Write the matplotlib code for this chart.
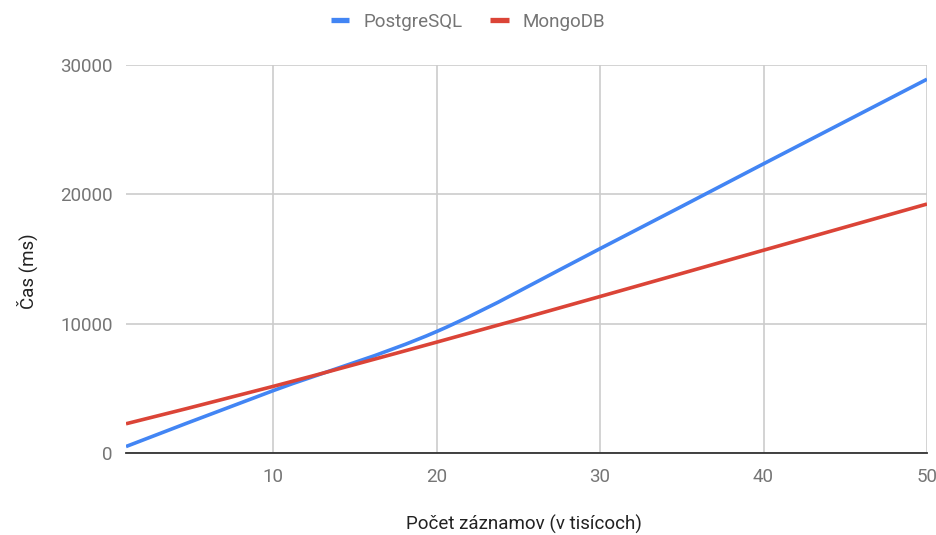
import matplotlib
matplotlib.use("Agg")
import matplotlib.pyplot as plt
from matplotlib.path import Path
from matplotlib.patches import PathPatch
from matplotlib.lines import Line2D
import numpy as np

plt.rcParams['font.family'] = ['Roboto', 'DejaVu Sans']

records = [1, 10, 20, 30, 40, 50]
postgres = [500, 4820, 9390, 15800, 22360, 28900]
mongo = [2260, 5150, 8570, 12100, 15680, 19250]
series_names = ["PostgreSQL", "MongoDB"]
colors = ["#4285F4", "#DB4437"]
yticks = [0, 10000, 20000, 30000]
xticks = [10, 20, 30, 40, 50]

W, H = 937, 535
FS = 13.5
fig = plt.figure(figsize=(W / 100, H / 100), dpi=100)
ax = fig.add_axes([126 / W, 1 - 453 / H, (927 - 126) / W, (453 - 65) / H])


def smooth_path(xs, ys, t=1 / 6):
    xs = np.asarray(xs, float)
    ys = np.asarray(ys, float)
    n = len(xs)
    verts = [(xs[0], ys[0])]
    codes = [Path.MOVETO]
    for i in range(n - 1):
        p0 = np.array([xs[max(i - 1, 0)], ys[max(i - 1, 0)]])
        p1 = np.array([xs[i], ys[i]])
        p2 = np.array([xs[i + 1], ys[i + 1]])
        p3 = np.array([xs[min(i + 2, n - 1)], ys[min(i + 2, n - 1)]])
        c1 = p1 + (p2 - p0) * t
        c2 = p2 - (p3 - p1) * t
        verts += [tuple(c1), tuple(c2), tuple(p2)]
        codes += [Path.CURVE4] * 3
    return Path(verts, codes)


for ys, c in zip([postgres, mongo], colors):
    patch = PathPatch(smooth_path(records, ys), facecolor='none', edgecolor=c,
                      lw=2.6, capstyle='butt', zorder=3)
    ax.add_patch(patch)

ax.set_xlim(1, 50)
ax.set_ylim(0, 30000)
ax.set_yticks(yticks)
ax.set_xticks(xticks)
ax.grid(True, color='#cccccc', lw=1.2)
ax.set_axisbelow(True)
for s in ['top', 'right', 'left']:
    ax.spines[s].set_visible(False)
ax.spines['bottom'].set_color('#333333')
ax.spines['bottom'].set_linewidth(1.3)
ax.spines['bottom'].set_zorder(4)
ax.tick_params(axis='both', length=0, labelsize=FS, labelcolor='#757575')
ax.tick_params(axis='y', pad=9.4)
ax.tick_params(axis='x', pad=11)

fig.text(27 / W, 1 - 271 / H, "Čas (ms)", rotation=90, ha='center', va='center',
         fontsize=FS, color='#222222')
fig.text(524 / W, 1 - 524 / H, "Počet záznamov (v tisícoch)", ha='center', va='center',
         fontsize=FS, color='#222222')

handles = [Line2D([], [], color=c, lw=3.8, solid_capstyle='butt') for c in colors]
fig.legend(handles, series_names, loc='center', bbox_to_anchor=(468 / W, 1 - 22 / H),
           ncol=2, frameon=False, fontsize=FS, labelcolor='#757575',
           handlelength=1.0, handletextpad=0.75, columnspacing=1.45)

fig.savefig("out.png", dpi=100, facecolor='white')
